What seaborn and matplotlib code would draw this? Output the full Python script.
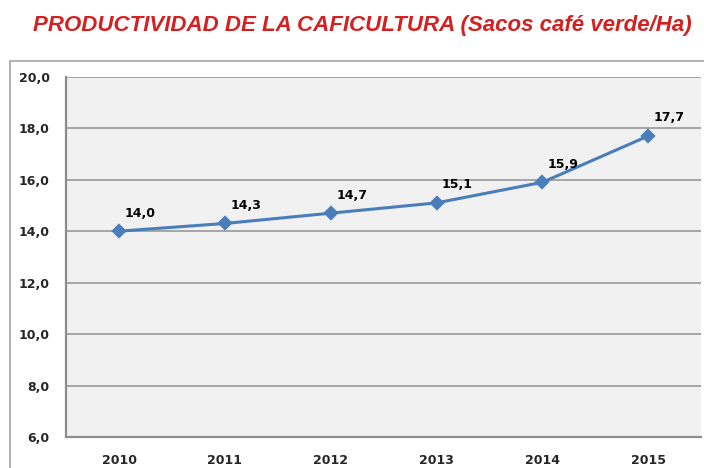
import matplotlib.pyplot as plt
import matplotlib.patches as mpatches
import pandas as pd
import seaborn as sns

years = ['2010', '2011', '2012', '2013', '2014', '2015']
productividad = [14.0, 14.3, 14.7, 15.1, 15.9, 17.7]
y_ticks = [6, 8, 10, 12, 14, 16, 18, 20]

data = pd.DataFrame({"Año": years, "Sacos/Ha": productividad})

sns.set_style("white")
plt.rcParams['font.family'] = ['DejaVu Sans']

fig = plt.figure(figsize=(7.04, 4.68), dpi=100)
ax = fig.add_axes([0.094, 0.066, 0.902, 0.77])

# outer chart frame (Excel style)
frame = mpatches.Rectangle((0.014, -0.2), 1.2, 0.2 + 0.87, transform=fig.transFigure,
                           fill=False, edgecolor='#a6a6a6', linewidth=1.2, zorder=0)
fig.patches.append(frame)

sns.pointplot(data=data, x="Año", y="Sacos/Ha", color='#4a7ebb', markers='D',
              linestyles='-', ax=ax, markersize=6, linewidth=2.2, errorbar=None)

ax.set_facecolor('#f1f1f1')
ax.set_ylim(6, 20)
ax.set_xlim(-0.5, 5.5)
ax.set_yticks(y_ticks)
ax.set_yticklabels([f"{v:.1f}".replace('.', ',') for v in y_ticks])
for v in y_ticks:
    ax.axhline(v, color='#a0a0a0', linewidth=1.3, zorder=0)
ax.set_xlabel('')
ax.set_ylabel('')
ax.tick_params(axis='both', length=0, labelsize=9)
ax.tick_params(axis='y', pad=12)
ax.tick_params(axis='x', pad=12)
for lbl in ax.get_xticklabels() + ax.get_yticklabels():
    lbl.set_fontweight('bold')

for s in ['top', 'right']:
    ax.spines[s].set_visible(False)
for s in ['left', 'bottom']:
    ax.spines[s].set_color('#8c8c8c')
    ax.spines[s].set_linewidth(1.6)

for i, v in enumerate(productividad):
    ax.annotate(f"{v:.1f}".replace('.', ','), (i, v), xytext=(15, 13),
                textcoords='offset points', ha='center', va='center',
                fontsize=9, fontweight='bold', color='black')

fig.text(0.515, 0.945, 'PRODUCTIVIDAD DE LA CAFICULTURA (Sacos café verde/Ha)',
         ha='center', va='center', color='#d42020', fontsize=16,
         fontweight='bold', fontstyle='italic',
         family=['Liberation Sans', 'DejaVu Sans'])

fig.savefig('out.png', dpi=100)
